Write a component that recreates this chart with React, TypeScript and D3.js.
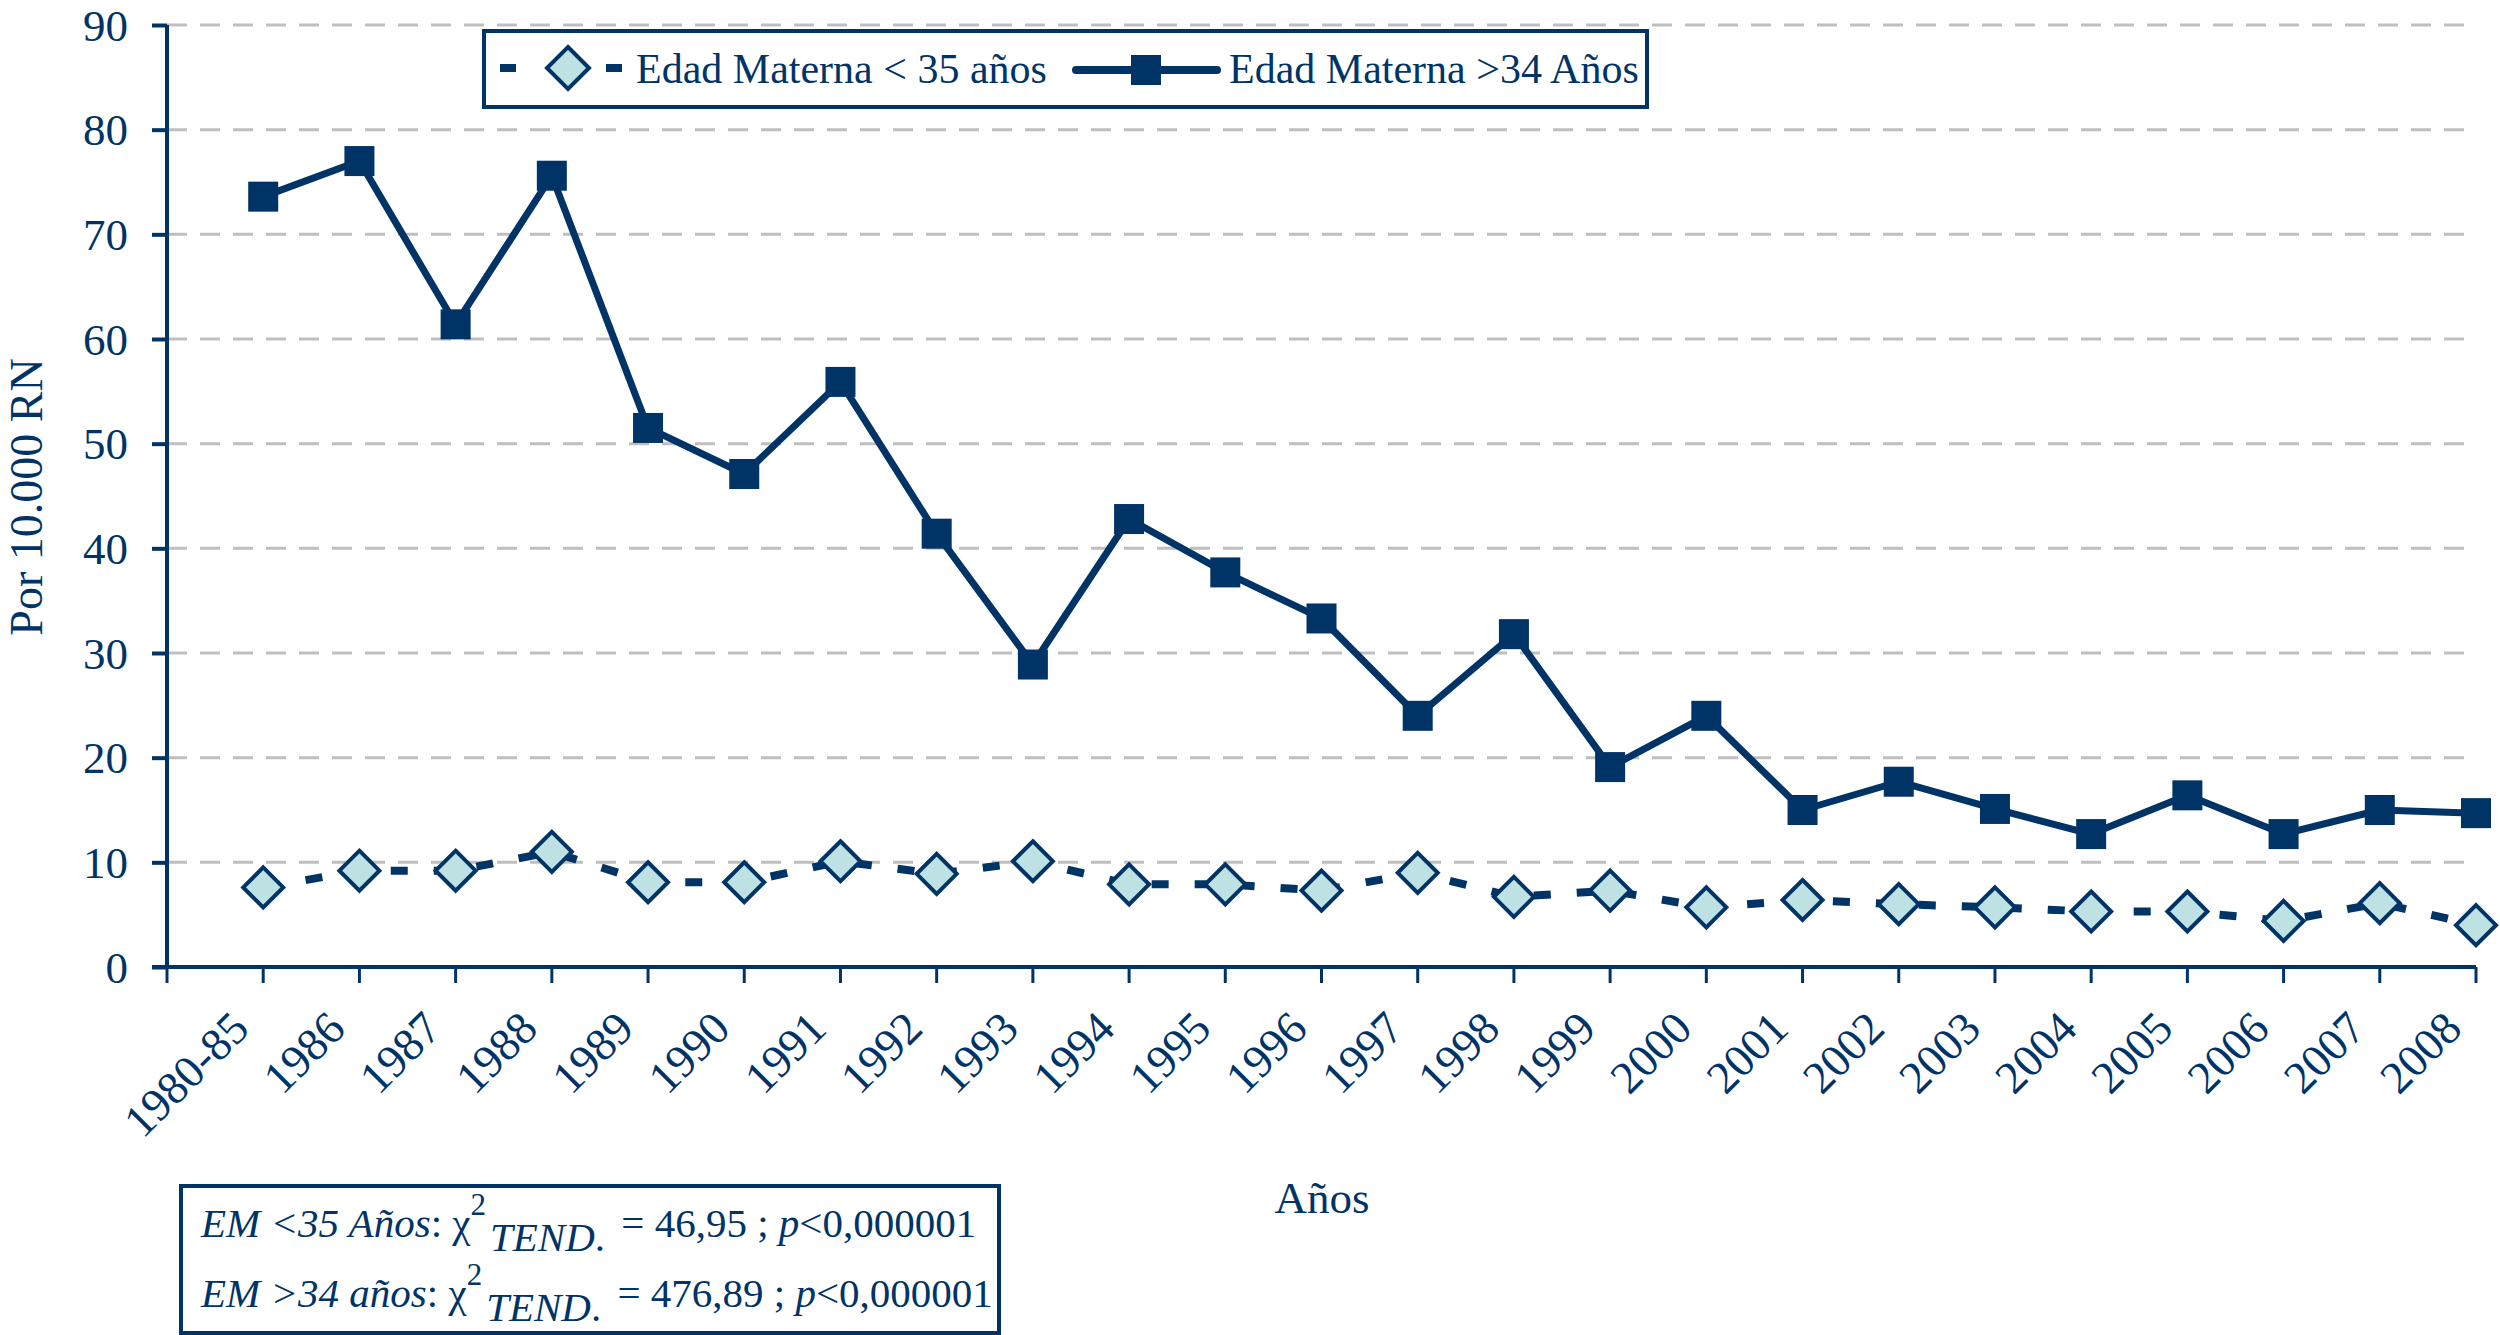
import React, { useEffect, useRef } from "react";
import * as d3 from "d3";

const categories = [
  "1980-85", "1986", "1987", "1988", "1989", "1990", "1991", "1992",
  "1993", "1994", "1995", "1996", "1997", "1998", "1999", "2000",
  "2001", "2002", "2003", "2004", "2005", "2006", "2007", "2008",
];

// Edad Materna < 35 años (diamonds, dashed)
const under35 = [
  7.6, 9.2, 9.2, 11.0, 8.1, 8.1, 10.1, 8.9, 10.1, 7.9, 7.9, 7.3,
  9.0, 6.7, 7.3, 5.7, 6.4, 6.0, 5.7, 5.3, 5.3, 4.4, 6.1, 4.0,
];

// Edad Materna > 34 años (squares, solid)
const over34 = [
  73.6, 77.0, 61.4, 75.6, 51.5, 47.1, 55.9, 41.4, 28.9, 42.8, 37.7, 33.3,
  24.0, 31.8, 19.1, 24.0, 15.0, 17.7, 15.1, 12.7, 16.4, 12.7, 15.0, 14.7,
];

const yTicks = [0, 10, 20, 30, 40, 50, 60, 70, 80, 90];

const legendLabels = ["Edad Materna < 35 años", "Edad Materna >34 Años"];

const NAVY = "#003466";
const LIGHT = "#bee2e4";
const GRID = "#bfbfbf";
const FONT = "'Liberation Serif', 'Times New Roman', serif";

const WIDTH = 2500;
const HEIGHT = 1335;

export default function App() {
  const svgRef = useRef<SVGSVGElement>(null);

  useEffect(() => {
    if (!svgRef.current) return;
    const svg = d3.select(svgRef.current);
    svg.selectAll("*").remove();

    const left = 167;
    const right = 2476;
    const top = 25;
    const bottom = 967;

    // category index -1 sits on the y axis, last category on the right edge
    const x = d3.scaleLinear().domain([-1, categories.length - 1]).range([left, right]);
    const y = d3.scaleLinear().domain([0, 90]).range([bottom, top]);

    const g = svg.append("g").attr("font-family", FONT);

    // gridlines
    g.selectAll(".grid")
      .data(yTicks.filter((d) => d > 0))
      .enter()
      .append("line")
      .attr("x1", left)
      .attr("x2", right)
      .attr("y1", (d) => y(d))
      .attr("y2", (d) => y(d))
      .attr("stroke", GRID)
      .attr("stroke-width", 3)
      .attr("stroke-dasharray", "20,13");

    // y axis
    const yAxis = g
      .append("g")
      .attr("transform", `translate(${left},0)`)
      .call(d3.axisLeft(y).tickValues(yTicks).tickSize(15).tickPadding(24));
    yAxis.attr("font-family", FONT);
    yAxis.select(".domain").attr("stroke", NAVY).attr("stroke-width", 4).attr("d", `M0,${top}V${bottom}`);
    yAxis.selectAll(".tick line").attr("stroke", NAVY).attr("stroke-width", 4);
    yAxis
      .selectAll(".tick text")
      .attr("fill", NAVY)
      .attr("font-family", FONT)
      .attr("font-size", 45)
      .attr("dy", "0.34em");

    // x axis
    const xg = g.append("g");
    xg.append("line")
      .attr("x1", left - 15)
      .attr("x2", right)
      .attr("y1", bottom)
      .attr("y2", bottom)
      .attr("stroke", NAVY)
      .attr("stroke-width", 4);
    xg.selectAll(".xtick")
      .data(d3.range(-1, categories.length))
      .enter()
      .append("line")
      .attr("x1", (d) => x(d))
      .attr("x2", (d) => x(d))
      .attr("y1", bottom)
      .attr("y2", bottom + 16)
      .attr("stroke", NAVY)
      .attr("stroke-width", 3);
    xg.selectAll(".xlabel")
      .data(categories)
      .enter()
      .append("text")
      .attr("text-anchor", "end")
      .attr("transform", (_, i) => `translate(${x(i) - 12},${bottom + 64}) rotate(-45)`)
      .attr("fill", NAVY)
      .attr("font-family", FONT)
      .attr("font-size", 46)
      .text((d) => d);

    // axis titles
    g.append("text")
      .attr("transform", `translate(42,497) rotate(-90)`)
      .attr("text-anchor", "middle")
      .attr("fill", NAVY)
      .attr("font-family", FONT)
      .attr("font-size", 46)
      .text("Por 10.000 RN");
    g.append("text")
      .attr("x", 1322)
      .attr("y", 1213)
      .attr("text-anchor", "middle")
      .attr("fill", NAVY)
      .attr("font-family", FONT)
      .attr("font-size", 45)
      .text("Años");

    // series lines
    const line = d3
      .line<number>()
      .x((_, i) => x(i))
      .y((d) => y(d));

    g.append("path")
      .datum(under35)
      .attr("d", line)
      .attr("fill", "none")
      .attr("stroke", NAVY)
      .attr("stroke-width", 8)
      .attr("stroke-dasharray", "17,26");

    g.append("path")
      .datum(over34)
      .attr("d", line)
      .attr("fill", "none")
      .attr("stroke", NAVY)
      .attr("stroke-width", 7)
      .attr("stroke-linejoin", "round");

    const diamond = (cx: number, cy: number, r: number) =>
      `M${cx},${cy - r}L${cx + r},${cy}L${cx},${cy + r}L${cx - r},${cy}Z`;

    g.selectAll(".diamond")
      .data(under35)
      .enter()
      .append("path")
      .attr("d", (d, i) => diamond(x(i), y(d), 20))
      .attr("fill", LIGHT)
      .attr("stroke", NAVY)
      .attr("stroke-width", 4)
      .attr("stroke-linejoin", "miter");

    g.selectAll(".square")
      .data(over34)
      .enter()
      .append("rect")
      .attr("x", (_, i) => x(i) - 15)
      .attr("y", (d) => y(d) - 15)
      .attr("width", 30)
      .attr("height", 30)
      .attr("fill", NAVY);

    // legend
    const lg = g.append("g");
    lg.append("rect")
      .attr("x", 484)
      .attr("y", 31)
      .attr("width", 1163)
      .attr("height", 76)
      .attr("fill", "white")
      .attr("stroke", NAVY)
      .attr("stroke-width", 4);
    lg.append("line")
      .attr("x1", 500)
      .attr("x2", 622)
      .attr("y1", 68)
      .attr("y2", 68)
      .attr("stroke", NAVY)
      .attr("stroke-width", 8)
      .attr("stroke-dasharray", "16,90");
    lg.append("path")
      .attr("d", diamond(568, 68, 21))
      .attr("fill", LIGHT)
      .attr("stroke", NAVY)
      .attr("stroke-width", 4);
    lg.append("line")
      .attr("x1", 1076)
      .attr("x2", 1217)
      .attr("y1", 70)
      .attr("y2", 70)
      .attr("stroke", NAVY)
      .attr("stroke-width", 8)
      .attr("stroke-linecap", "round");
    lg.append("rect")
      .attr("x", 1131)
      .attr("y", 55)
      .attr("width", 30)
      .attr("height", 30)
      .attr("fill", NAVY);
    lg.selectAll(".ltext")
      .data(legendLabels)
      .enter()
      .append("text")
      .attr("x", (_, i) => (i === 0 ? 636 : 1229))
      .attr("y", 83)
      .attr("fill", NAVY)
      .attr("font-family", FONT)
      .attr("font-size", 42)
      .text((d) => d);

    // stats box
    const sb = g.append("g");
    sb.append("rect")
      .attr("x", 181)
      .attr("y", 1186)
      .attr("width", 818)
      .attr("height", 147)
      .attr("fill", "white")
      .attr("stroke", NAVY)
      .attr("stroke-width", 4);

    const statLines = [
      { group: "EM <35 Años", chi: "46,95", baseline: 1237 },
      { group: "EM >34 años", chi: "476,89", baseline: 1307 },
    ];
    statLines.forEach((s) => {
      const t = sb
        .append("text")
        .attr("x", 201)
        .attr("y", s.baseline)
        .attr("fill", NAVY)
        .attr("font-family", FONT)
        .attr("font-size", 41);
      t.append("tspan").attr("font-style", "italic").text(s.group);
      t.append("tspan").text(": χ");
      t.append("tspan").attr("font-size", 31).attr("dy", -22).text("2");
      t.append("tspan").attr("font-style", "italic").attr("dy", 36).attr("dx", 4).text("TEND");
      t.append("tspan").text(".");
      t.append("tspan").attr("dy", -14).attr("dx", 6).text(` = ${s.chi} ; `);
      t.append("tspan").attr("font-style", "italic").text("p");
      t.append("tspan").text("<0,000001");
    });
  }, []);

  return (
    <div style={{ position: "absolute", left: 0, top: 0 }}>
      <svg ref={svgRef} width={WIDTH} height={HEIGHT} style={{ display: "block", background: "white" }} />
    </div>
  );
}
